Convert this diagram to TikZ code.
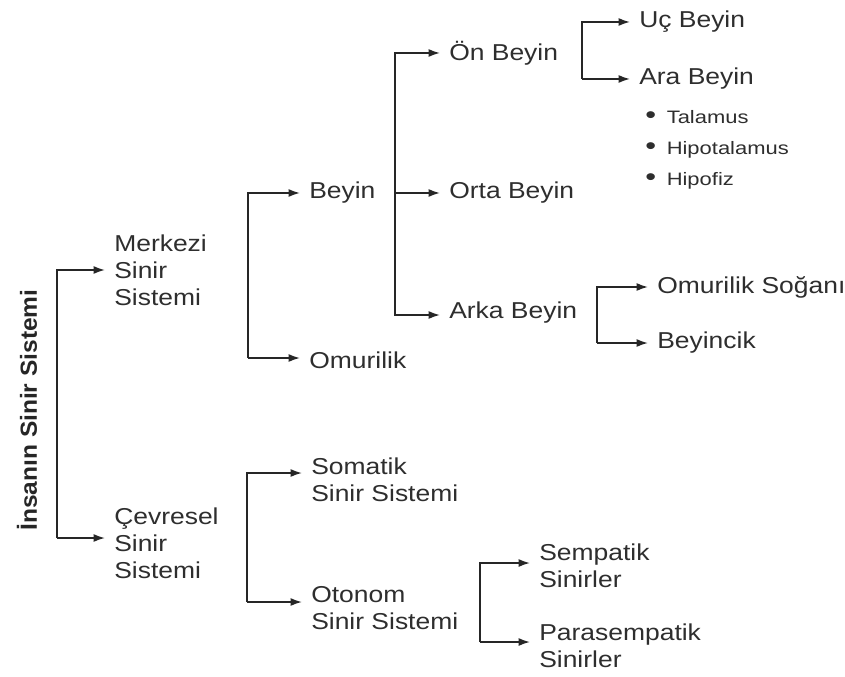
\documentclass[tikz,border=0pt]{standalone}
\usepackage{fontspec}
\setmainfont{Liberation Sans}
\newfontfamily\mainf[FakeStretch=1.15]{Liberation Sans}
\newfontfamily\smallf[FakeStretch=1.22]{Liberation Sans}
\newfontfamily\rootf[FakeStretch=1.05]{Liberation Sans Bold}
\usetikzlibrary{arrows.meta}
\newcommand{\bigbul}{{\fontsize{19}{16}\selectfont\textbullet}}
\begin{document}
\begin{tikzpicture}[x=0.75pt,y=-0.75pt,
  lbl/.style={inner xsep=6.75pt, inner ysep=0pt, anchor=west, align=left, text=black!82,
              font=\mainf\fontsize{17.25}{20.25}\selectfont},
  sml/.style={inner sep=0pt, anchor=west, text=black!82, font=\smallf\fontsize{13.5}{16}\selectfont},
  conn/.style={line width=1.3pt, draw=black!85},
  arr/.style={conn, -{Latex[length=8.5pt,width=6pt]}}]
\useasboundingbox (0,0) rectangle (845,677);

% root
\node[rotate=90, inner sep=0pt, text=black!85, font=\rootf\fontsize{17.5}{20}\selectfont] (root) at (27,410) {İnsanın Sinir Sistemi};

% spine positions
\coordinate (sR) at (57,0);
\coordinate (sM) at (248,0);
\coordinate (sB) at (395,0);
\coordinate (sO) at (582,0);
\coordinate (sA) at (597,0);
\coordinate (sC) at (247,0);
\coordinate (sT) at (480,0);

% nodes
\node[lbl] (ms) at (105,270) {Merkezi\\Sinir\\Sistemi};
\node[lbl] (cs) at (105,543) {Çevresel\\Sinir\\Sistemi};
\node[lbl] (beyin) at (300,193) {Beyin};
\node[lbl] (omur) at (300,360) {Omurilik};
\node[lbl] (on) at (440,53) {Ön Beyin};
\node[lbl] (orta) at (440,193) {Orta Beyin};
\node[lbl] (arka) at (440,313) {Arka Beyin};
\node[lbl] (uc) at (630,22) {Uç Beyin};
\node[lbl] (ara) at (630,79) {Ara Beyin};
\node[lbl] (oms) at (648,287) {Omurilik Soğanı};
\node[lbl] (bey) at (648,343) {Beyincik};
\node[lbl] (som) at (302,480) {Somatik\\Sinir Sistemi};
\node[lbl] (oto) at (302,608) {Otonom\\Sinir Sistemi};
\node[lbl] (semp) at (530,566) {Sempatik\\Sinirler};
\node[lbl] (para) at (530,646) {Parasempatik\\Sinirler};

\node[sml] (tal) at (645,117) {\bigbul\hspace{8pt}Talamus};
\node[sml] (hipt) at (645,150) {\bigbul\hspace{8pt}Hipotalamus};
\node[sml] (hipf) at (645,181) {\bigbul\hspace{8pt}Hipofiz};

% arrow end points (slightly shifted where the line meets the text above its middle)
\coordinate (csw) at ([yshift=3.75pt]cs.west);
\coordinate (omw) at ([yshift=1.5pt]omur.west);
\coordinate (arw) at ([yshift=-1.5pt]arka.west);
\coordinate (somw) at ([yshift=5.25pt]som.west);
\coordinate (otow) at ([yshift=4.5pt]oto.west);
\coordinate (sempw) at ([yshift=2.25pt]semp.west);
\coordinate (paraw) at ([yshift=3pt]para.west);

% root bracket
\draw[arr] (csw -| sR) -- (ms.west -| sR) -- (ms.west);
\draw[arr] (csw -| sR) -- (csw);
% merkezi bracket
\draw[arr] (omw -| sM) -- (beyin.west -| sM) -- (beyin.west);
\draw[arr] (omw -| sM) -- (omw);
% beyin bracket
\draw[arr] (arw -| sB) -- (on.west -| sB) -- (on.west);
\draw[arr] (orta.west -| sB) -- (orta.west);
\draw[arr] (on.west -| sB) |- (arw);
% on beyin bracket
\draw[arr] (ara.west -| sO) -- (uc.west -| sO) -- (uc.west);
\draw[arr] (ara.west -| sO) -- (ara.west);
% arka beyin bracket
\draw[arr] (bey.west -| sA) -- (oms.west -| sA) -- (oms.west);
\draw[arr] (bey.west -| sA) -- (bey.west);
% cevresel bracket
\draw[arr] (otow -| sC) -- (somw -| sC) -- (somw);
\draw[arr] (otow -| sC) -- (otow);
% otonom bracket
\draw[arr] (paraw -| sT) -- (sempw -| sT) -- (sempw);
\draw[arr] (paraw -| sT) -- (paraw);
\end{tikzpicture}
\end{document}
